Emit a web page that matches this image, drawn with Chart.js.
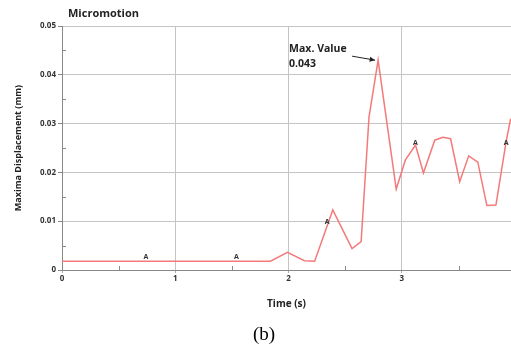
<!DOCTYPE html>
<html lang="en">
<head>
    <meta charset="UTF-8">
    <title>Micromotion</title>
    <script src="https://cdn.jsdelivr.net/npm/chart.js"></script>
    <style>
        body { margin: 0; background: #fff; }
        #wrap { width: 511px; height: 346px; position: relative; }
    </style>
</head>
<body>
    <div id="wrap"><canvas id="micromotionChart"></canvas></div>

    <script>
        // series: time (s) and maxima displacement (mm)
        const timeValues = [0, 1.84, 1.99, 2.14, 2.23, 2.39, 2.56, 2.64, 2.71, 2.79, 2.95, 3.03, 3.12, 3.19,
                            3.29, 3.36, 3.43, 3.51, 3.59, 3.67, 3.75, 3.83, 3.92, 3.96];
        const dispValues = [0.0018, 0.0018, 0.0036, 0.0019, 0.0018, 0.0123, 0.0044, 0.0058, 0.0314, 0.043,
                            0.0166, 0.0225, 0.0256, 0.0199, 0.0266, 0.0272, 0.0269, 0.0181, 0.0234, 0.0221,
                            0.0132, 0.0133, 0.0263, 0.031];

        // the small "A" marks along the curve
        const markTimes = [0.74, 1.54, 2.34, 3.12, 3.92];
        const markValues = [0.0026, 0.0026, 0.0099, 0.026, 0.026];

        // axis ticks
        const xTicks = [0, 0.5, 1, 1.5, 2, 2.5, 3, 3.5];
        const yTicks = [0, 0.005, 0.01, 0.015, 0.02, 0.025, 0.03, 0.035, 0.04, 0.045, 0.05];

        const maxLabel = ['Max. Value', '0.043'];

        const isMajorX = v => Number.isInteger(v);
        const isMajorY = v => Math.abs(v * 100 - Math.round(v * 100)) < 1e-6;

        const lineData = timeValues.map((t, i) => ({ x: t, y: dispValues[i] }));
        const markData = markTimes.map((t, i) => ({ x: t, y: markValues[i] }));

        // draws the inner minor ticks, the "A" marks, the annotation and the texts
        const extrasPlugin = {
            id: 'extras',
            afterDatasetsDraw(chart) {
                const ctx = chart.ctx;
                const xs = chart.scales.x, ys = chart.scales.y;
                const area = chart.chartArea;
                ctx.save();

                // minor ticks inside the plot
                ctx.strokeStyle = '#888';
                ctx.lineWidth = 1;
                ctx.beginPath();
                yTicks.filter(v => !isMajorY(v)).forEach(v => {
                    const py = Math.round(ys.getPixelForValue(v)) + 0.5;
                    ctx.moveTo(area.left, py);
                    ctx.lineTo(area.left + 4, py);
                });
                xTicks.filter(v => !isMajorX(v)).forEach(v => {
                    const px = Math.round(xs.getPixelForValue(v)) + 0.5;
                    ctx.moveTo(px, area.bottom);
                    ctx.lineTo(px, area.bottom - 4);
                });
                ctx.stroke();

                // "A" marks
                ctx.fillStyle = '#333';
                ctx.font = 'bold 7px "Open Sans"';
                ctx.textAlign = 'center';
                ctx.textBaseline = 'middle';
                chart.getDatasetMeta(1).data.forEach(pt => {
                    ctx.fillText('A', pt.x, pt.y);
                });

                // max value annotation, placed relative to the peak point
                const peakIdx = dispValues.indexOf(Math.max(...dispValues));
                const peak = chart.getDatasetMeta(0).data[peakIdx];
                ctx.font = 'bold 10.5px "Open Sans"';
                ctx.textAlign = 'left';
                ctx.fillStyle = '#222';
                ctx.fillText(maxLabel[0], peak.x - 89, peak.y - 11);
                ctx.fillText(maxLabel[1], peak.x - 89, peak.y + 4);
                // arrow
                const ax0 = peak.x - 26, ay0 = peak.y - 4;
                const ax1 = peak.x - 3, ay1 = peak.y;
                ctx.strokeStyle = '#222';
                ctx.lineWidth = 1;
                ctx.beginPath();
                ctx.moveTo(ax0, ay0);
                ctx.lineTo(ax1, ay1);
                ctx.stroke();
                const ang = Math.atan2(ay1 - ay0, ax1 - ax0);
                ctx.beginPath();
                ctx.moveTo(ax1, ay1);
                ctx.lineTo(ax1 - 6 * Math.cos(ang - 0.45), ay1 - 6 * Math.sin(ang - 0.45));
                ctx.lineTo(ax1 - 6 * Math.cos(ang + 0.45), ay1 - 6 * Math.sin(ang + 0.45));
                ctx.closePath();
                ctx.fill();

                // chart title and panel label
                ctx.font = 'bold 11px "Open Sans"';
                ctx.fillStyle = '#222';
                ctx.textAlign = 'left';
                ctx.fillText('Micromotion', area.left + 6, 14);

                ctx.font = '19px "Liberation Serif"';
                ctx.fillStyle = '#000';
                ctx.textAlign = 'center';
                ctx.fillText('(b)', 264, 335);

                ctx.restore();
            }
        };

        const ctx = document.getElementById('micromotionChart').getContext('2d');
        const chart = new Chart(ctx, {
            type: 'scatter',
            data: {
                datasets: [
                    {
                        label: 'Micromotion',
                        data: lineData,
                        showLine: true,
                        borderColor: '#f47a7a',
                        borderWidth: 1.5,
                        pointRadius: 0,
                        tension: 0
                    },
                    {
                        label: 'A',
                        data: markData,
                        showLine: false,
                        pointRadius: 0
                    }
                ]
            },
            options: {
                responsive: true,
                maintainAspectRatio: false,
                animation: false,
                layout: { padding: { top: 26, right: 0, bottom: 36, left: 0 } },
                plugins: {
                    legend: { display: false },
                    tooltip: { enabled: false }
                },
                scales: {
                    x: {
                        type: 'linear',
                        min: 0,
                        max: 3.963,
                        afterBuildTicks: s => { s.ticks = xTicks.map(v => ({ value: v })); },
                        afterFit: s => { s.height = 40; },
                        border: { color: '#888', width: 1 },
                        grid: {
                            color: c => isMajorX(c.tick.value) ? '#c4c4c4' : 'rgba(0,0,0,0)',
                            tickColor: c => isMajorX(c.tick.value) ? '#aaa' : 'rgba(0,0,0,0)',
                            tickLength: 3
                        },
                        ticks: {
                            autoSkip: false,
                            maxRotation: 0,
                            padding: 1,
                            color: '#333',
                            font: { family: 'Open Sans', size: 8, weight: 'bold' },
                            callback: v => isMajorX(v) ? String(v) : ''
                        },
                        title: {
                            display: true,
                            text: 'Time (s)',
                            color: '#222',
                            font: { family: 'Open Sans', size: 10, weight: 'bold' },
                            padding: { top: 0, bottom: 0 }
                        }
                    },
                    y: {
                        min: 0,
                        max: 0.05,
                        afterBuildTicks: s => { s.ticks = yTicks.map(v => ({ value: v })); },
                        afterFit: s => { s.width = 62; },
                        border: { color: '#888', width: 1 },
                        grid: {
                            color: c => isMajorY(c.tick.value) ? '#c4c4c4' : 'rgba(0,0,0,0)',
                            tickColor: c => isMajorY(c.tick.value) ? '#888' : 'rgba(0,0,0,0)',
                            tickLength: 4
                        },
                        ticks: {
                            autoSkip: false,
                            padding: 2,
                            color: '#333',
                            font: { family: 'Open Sans', size: 8, weight: 'bold' },
                            callback: v => isMajorY(v) ? (v === 0 ? '0' : v.toFixed(2)) : ''
                        },
                        title: {
                            display: true,
                            text: 'Maxima Displacement (mm)',
                            color: '#222',
                            font: { family: 'Open Sans', size: 9, weight: 'bold' },
                            padding: { top: 13, bottom: 0 }
                        }
                    }
                }
            },
            plugins: [extrasPlugin]
        });
    </script>
</body>
</html>
